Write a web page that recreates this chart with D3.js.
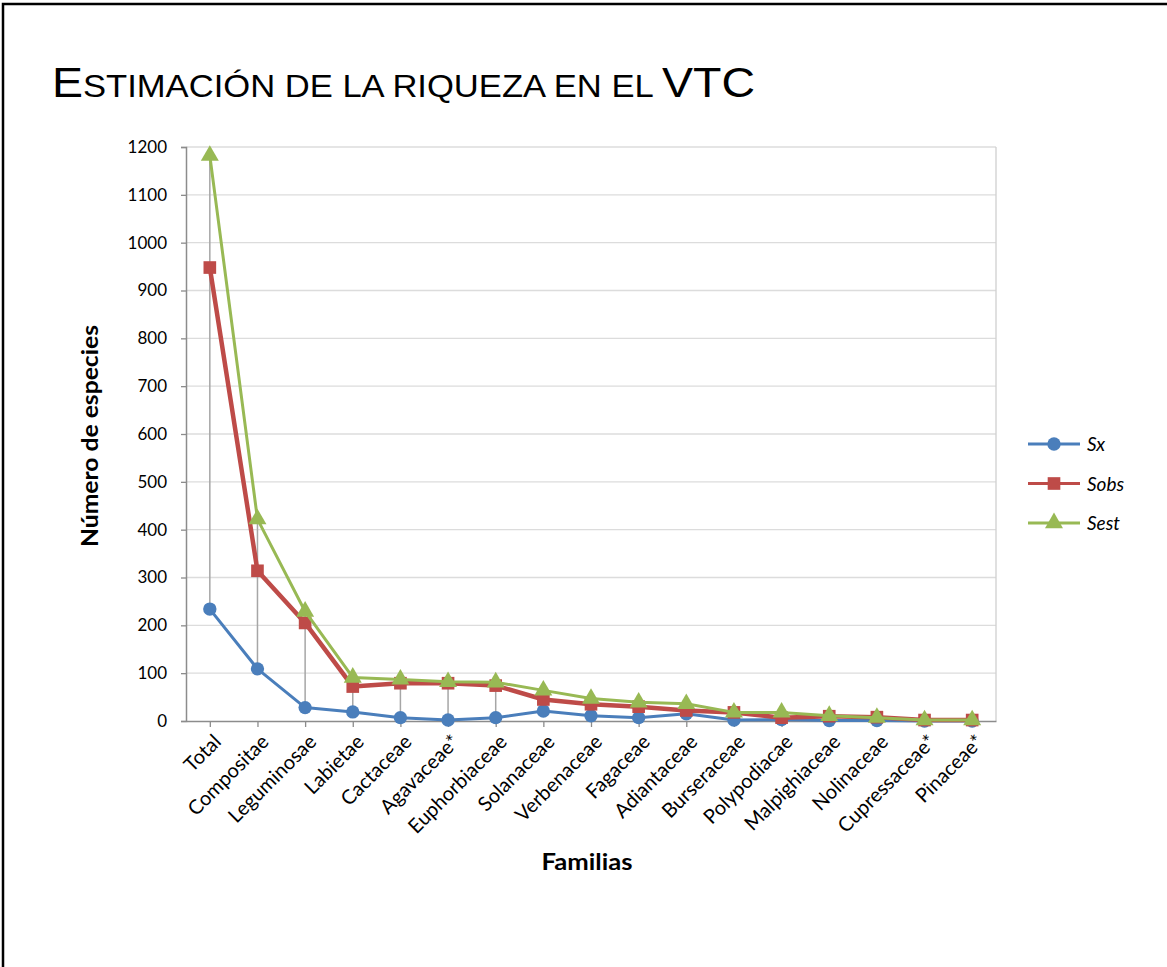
<!DOCTYPE html>
<html><head><meta charset="utf-8">
<script src="https://cdn.jsdelivr.net/npm/d3@7"></script>
<style>
body{margin:0;background:#fff;}
svg{display:block;}
</style></head>
<body><svg id="c" width="1167" height="967"></svg>
<script>
const categories = ["Total","Compositae","Leguminosae","Labietae","Cactaceae","Agavaceae*","Euphorbiaceae","Solanaceae","Verbenaceae","Fagaceae","Adiantaceae","Burseraceae","Polypodiacae","Malpighiaceae","Nolinaceae","Cupressaceae*","Pinaceae*"];
const sx   = [234,109,28,19,7,2,7,21,11,7,15,2,3,1,1,0,0];
const sobs = [948,314,205,72,79,79,74,45,35,30,22,18,7,10,8,2,2];
const sest = [1182,422,229,91,87,82,81,64,47,39,36,18,18,11,7,2,2];
const yTicks = [0,100,200,300,400,500,600,700,800,900,1000,1100,1200];
const seriesNames = ["Sx","Sobs","Sest"];

const svg = d3.select("#c");
const W=1167,H=967;
const font = "Lato, 'Open Sans', sans-serif";
// outer border
svg.append("rect").attr("x",3).attr("y",4).attr("width",W+10).attr("height",H+10)
  .attr("fill","none").attr("stroke","#000").attr("stroke-width",2.5);

// title (small caps made with tspans)
const titleParts = [["E",43],["STIMACIÓN DE LA RIQUEZA EN EL ",32],["VTC",43]];
const tt = svg.append("text").attr("x",52).attr("y",97)
  .attr("font-family","'Liberation Sans', Arial, sans-serif").attr("fill","#000")
  .attr("textLength",703).attr("lengthAdjust","spacingAndGlyphs");
titleParts.forEach(p=>tt.append("tspan").attr("font-size",p[1]).text(p[0]));

const m={l:186,r:996,t:147,b:721};
const x = d3.scalePoint().domain(categories).range([m.l,m.r]).padding(0.5);
const y = d3.scaleLinear().domain([0,1200]).range([m.b,m.t]);

// gridlines
svg.append("g").selectAll("line").data(yTicks.slice(1)).join("line")
  .attr("x1",m.l).attr("x2",m.r).attr("y1",d=>y(d)).attr("y2",d=>y(d))
  .attr("stroke","#dcdcdc").attr("stroke-width",1.3);
svg.append("line").attr("x1",m.r).attr("x2",m.r).attr("y1",m.t).attr("y2",m.b)
  .attr("stroke","#d0d0d0").attr("stroke-width",1.3);

// y axis
const ya = svg.append("g").attr("transform",`translate(${m.l},0)`)
  .call(d3.axisLeft(y).tickValues(yTicks).tickSize(5).tickPadding(14).tickFormat(d3.format("d")));
ya.select(".domain").attr("stroke","#8c8c8c").attr("stroke-width",1.5);
ya.selectAll(".tick line").attr("stroke","#8c8c8c").attr("stroke-width",1.3);
ya.selectAll("text").attr("font-family",font).attr("font-size",17).attr("fill","#000");

// x axis
const xa = svg.append("g").attr("transform",`translate(0,${m.b})`)
  .call(d3.axisBottom(x).tickSize(6).tickSizeOuter(0));
xa.select(".domain").attr("stroke","#8c8c8c").attr("stroke-width",1.5);
xa.selectAll(".tick line").attr("stroke","#8c8c8c").attr("stroke-width",1.3);
xa.selectAll("text").attr("font-family",font).attr("font-size",20).attr("fill","#000")
  .attr("text-anchor","end").attr("dy",0).attr("y",0)
  .attr("transform","translate(12,22) rotate(-45)");

// axis titles
svg.append("text").attr("x",587).attr("y",870).attr("text-anchor","middle")
  .attr("font-family",font).attr("font-weight","bold").attr("font-size",23)
  .attr("textLength",91).attr("lengthAdjust","spacingAndGlyphs").text("Familias");
svg.append("text").attr("transform","translate(98,436) rotate(-90)").attr("text-anchor","middle")
  .attr("font-family",font).attr("font-weight","bold").attr("font-size",23)
  .attr("textLength",222).attr("lengthAdjust","spacingAndGlyphs").text("Número de especies");

// drop lines
svg.append("g").selectAll("line").data(categories).join("line")
  .attr("x1",d=>x(d)).attr("x2",d=>x(d))
  .attr("y1",(d,i)=>y(Math.max(sx[i],sobs[i],sest[i])))
  .attr("y2",(d,i)=>y(Math.min(sx[i],sobs[i],sest[i])))
  .attr("stroke","#a6a6a6").attr("stroke-width",1.5);

const colors = ["#4a7ebb","#be4b48","#98b954"];
const widths = [3,4.5,3];
const data = [sx,sobs,sest];
const line = d3.line().x((d,i)=>x(categories[i])).y(d=>y(d));
const sym = [d3.symbolCircle,d3.symbolSquare,d3.symbolTriangle];
const symSize = [140,160,140];
data.forEach((vals,k)=>{
  svg.append("path").attr("d",line(vals)).attr("fill","none")
    .attr("stroke",colors[k]).attr("stroke-width",widths[k]).attr("stroke-linejoin","round");
  svg.append("g").selectAll("path").data(vals).join("path")
    .attr("transform",(d,i)=>`translate(${x(categories[i])},${y(d)})`)
    .attr("d",d3.symbol().type(sym[k]).size(symSize[k]))
    .attr("fill",colors[k]);
});

// legend
const lg = svg.append("g");
seriesNames.forEach((n,k)=>{
  const ly = 444 + k*39.5;
  lg.append("line").attr("x1",1028).attr("x2",1080).attr("y1",ly).attr("y2",ly)
    .attr("stroke",colors[k]).attr("stroke-width",3);
  lg.append("path").attr("transform",`translate(1054,${ly})`)
    .attr("d",d3.symbol().type(sym[k]).size(symSize[k])).attr("fill",colors[k]);
  lg.append("text").attr("x",1087).attr("y",ly+7).attr("font-family",font)
    .attr("font-style","italic").attr("font-size",19).text(n);
});
</script></body></html>
